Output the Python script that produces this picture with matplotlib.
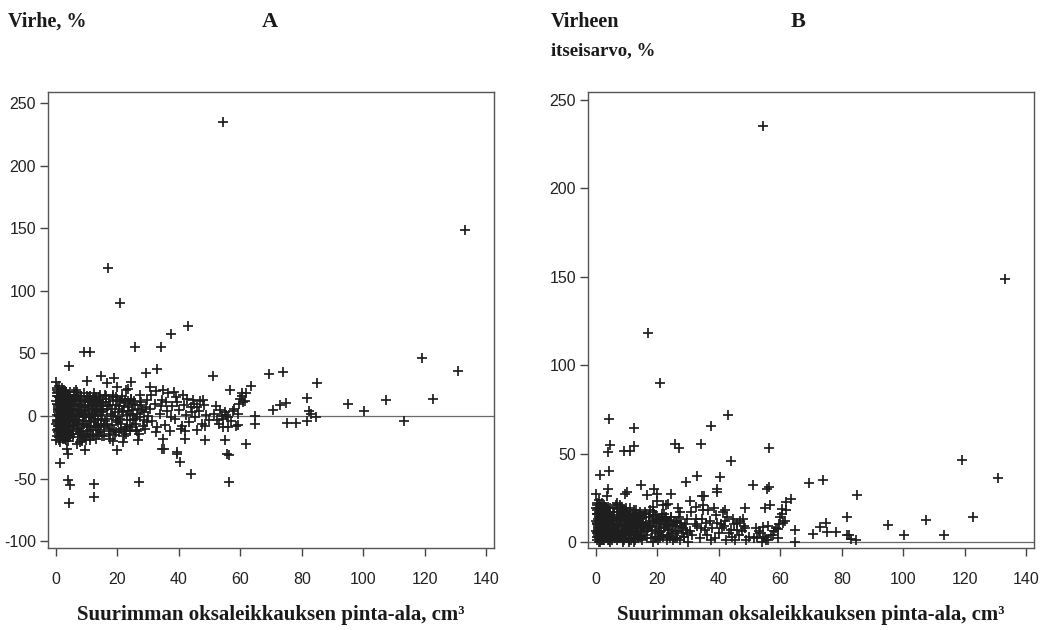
import matplotlib
matplotlib.use("Agg")
import matplotlib.pyplot as plt
from matplotlib import font_manager

# ---- data: size of the largest branch cross-section (cm3) and estimation error (%) ----
# clearly separated observations
outer_x = [54.5, 133.0, 17.0, 21.0, 43.0, 37.4, 9.2, 11.0, 25.6, 34.1,
           119.0, 131.0, 107.5, 122.7, 100.2, 95.2, 113.2, 84.9, 74.0, 69.4,
           51.0, 63.4, 56.5, 60.4, 81.7, 84.7, 81.7, 78.2, 75.1, 70.8,
           72.8, 75.0, 82.5, 83.0, 64.8, 64.8, 61.8, 59.2, 59.2, 56.0,
           55.0, 55.6, 56.4, 56.4, 54.3, 48.5, 43.9, 40.4, 39.3, 35.2,
           35.0, 27.0, 33.0, 29.3, 4.3, 10.2, 14.6, 18.9, 19.8, 16.5,
           24.3, 23.5, 22.8, 27.4, 30.6, 32.5, 35.0, 38.4, 47.7, 46.0,
           0.0, 1.3, 4.0, 4.6, 4.2, 12.4, 12.4, 3.5, 4.0, 9.4,
           18.7, 19.8, 26.8, 0.0, 0.2, 21.9, 34.6, 39.5, 42.0, 42.0]
outer_y = [235, 149, 118, 90, 72, 65.5, 51.5, 51.5, 55.5, 55.5,
           46.5, 36.3, 12.5, 14.0, 3.8, 9.6, -3.8, 26.3, 34.8, 33.6,
           32.2, 24.2, 20.8, 18.6, 14.1, -1.0, -3.7, -5.5, -5.9, 4.8,
           8.6, 10.5, 4.0, 1.5, 0.0, -6.6, -22.4, 2.0, -7.2, -9.0,
           -19.2, -30.0, -31.2, -53.0, -8.5, -19.2, -46.0, -36.5, -30.0, -26.0,
           -18.0, -53.0, 37.6, 34.0, 40.2, 28.2, 32.0, 30.1, 22.9, 26.6,
           26.9, 21.3, 20.8, 16.8, 23.4, 20.0, 21.0, 19.4, 12.8, 7.0,
           -19.0, -37.8, -51.0, -55.0, -69.3, -54.4, -64.5, -26.0, -30.0, -27.0,
           -20.0, -27.0, -19.2, 27.4, 22.0, -21.0, -26.0, -28.5, -12.0, -18.0]

# densely packed observations, small branches
dense_x = [0.3, 0.5, 0.8, 1.1, 1.4, 1.7, 2.0, 2.3, 2.6, 2.9,
           3.2, 3.5, 3.8, 4.1, 4.4, 4.7, 0.4, 0.9, 1.3, 1.9,
           2.4, 2.8, 3.3, 3.9, 4.5, 0.2, 0.7, 1.2, 1.6, 2.1,
           2.7, 3.1, 3.6, 4.2, 4.8, 0.6, 1.0, 1.5, 2.2, 2.5,
           3.0, 3.4, 4.0, 4.6, 0.3, 0.9, 1.4, 1.8, 2.4, 3.0,
           3.7, 4.3, 0.5, 1.1, 1.7, 2.3, 2.9, 3.5, 4.1, 4.9,
           0.8, 1.3, 2.0, 2.6, 3.2, 3.9, 4.4, 0.4, 1.0, 1.6,
           2.2, 2.8, 3.3, 4.0, 4.7, 0.1, 0.6, 1.9, 3.6, 4.3,
           5.2, 5.6, 6.0, 6.4, 6.8, 7.2, 7.6, 8.0, 8.4, 8.8,
           9.2, 9.6, 10.0, 10.4, 10.8, 11.2, 11.6, 12.0, 12.4, 12.8,
           13.2, 13.6, 14.0, 14.4, 14.8, 5.4, 5.9, 6.3, 6.9, 7.4,
           7.9, 8.3, 8.9, 9.4, 9.9, 10.3, 10.9, 11.4, 11.9, 12.3,
           12.9, 13.4, 13.9, 14.5, 5.1, 5.7, 6.2, 6.7, 7.1, 7.7,
           8.2, 8.6, 9.1, 9.7, 10.2, 10.6, 11.1, 11.7, 12.2, 12.7,
           13.1, 13.7, 14.2, 14.7, 6.5, 7.0, 8.5, 9.3, 11.0, 12.6,
           15.2, 15.7, 16.2, 16.7, 17.2, 17.7, 18.2, 18.7, 19.2, 19.7,
           20.2, 20.7, 21.2, 21.7, 22.2, 22.7, 23.2, 23.7, 24.2, 24.7,
           25.2, 25.7, 26.2, 26.7, 27.2, 27.7, 28.2, 28.7, 29.2, 29.7,
           15.5, 16.0, 16.5, 17.0, 17.5, 18.0, 18.5, 19.0, 19.5, 20.0,
           20.5, 21.0, 21.5, 22.0, 22.5, 23.0, 23.5, 24.0, 24.5, 25.0,
           25.5, 26.0, 26.5, 27.0, 27.5, 28.0, 28.5, 29.0, 29.5, 30.0,
           30.6, 31.4, 32.2, 33.0, 33.8, 34.6, 35.4, 36.2, 37.0, 37.8,
           38.6, 39.4, 40.2, 41.0, 41.8, 42.6, 43.4, 44.2, 45.0, 45.8,
           46.6, 47.4, 48.2, 49.0, 49.8, 31.0, 32.6, 34.2, 35.8, 37.4,
           39.0, 40.6, 42.2, 43.8, 45.4, 47.0, 48.6, 36.6, 41.4, 44.6,
           51.5, 52.5, 53.5, 54.0, 54.5, 55.0, 55.5, 56.0, 57.0, 58.0,
           52.0, 53.0, 57.5, 58.5, 60.0, 60.5, 61.0, 61.5, 62.0, 59.5]
dense_y = [-3, 5, -8, 2, 11, -14, 7, -1, 15, -6,
           3, -11, 9, -4, 13, -17, 18, -12, 0, -7,
           4, 20, -2, 10, -9, -16, 6, 14, -5, 1,
           -13, 8, 17, -3, 12, 3, -19, 9, -10, 16,
           -4, 2, -15, 6, 21, -8, 12, -1, -18, 8,
           5, -7, -10, 0, 19, -14, 10, 3, -6, 14,
           7, -2, -11, 13, -16, 1, 19, -5, 15, -9,
           4, -12, 11, -20, 2, 12, -13, 22, -8, -1,
           6, -9, 13, -3, 17, -14, 2, 9, -18, 4,
           -6, 11, -12, 15, 0, -8, 7, -16, 12, -2,
           8, -11, 3, 14, -7, -17, 19, -5, 1, 10,
           -13, 16, -1, 5, -19, 8, 13, -4, 2, 18,
           -9, 11, -15, 6, 2, -4, 8, -10, 15, -21,
           3, -6, 18, -14, 4, -9, 16, 6, -11, 1,
           15, -3, -13, 10, 21, -22, -20, 12, -17, 14,
           4, -8, 11, -2, 14, -12, 6, 0, -15, 9,
           -5, 12, -10, 3, 8, -14, 1, 10, -7, 5,
           -3, 9, -11, 6, -1, 11, -8, 3, 7, -5,
           -16, 17, -6, 8, -18, 2, 15, -11, -3, 13,
           6, -2, 16, -16, 11, -9, 4, -12, 14, 1,
           12, -6, 2, -14, 9, 5, -3, -10, 13, 0,
           6, -4, 10, -9, 2, 13, -7, 4, -12, 8,
           -2, 11, 5, -8, 9, 14, -5, 3, 10, -11,
           4, -6, 9, 1, -3, 17, -13, 8, 11, -1,
           15, -10, 1, 7, -1, 12, -8, 18, 17, 13,
           2, -3, 5, 0, -2, 3, 1, -1, -4, 6,
           8, -6, 4, -8, 14, 16, 11, 12, 18, 10]

# further small-branch observations inside the dark core
core_x = [0.2, 0.6, 1.0, 1.5, 2.0, 2.5, 3.0, 3.5, 4.0, 4.5,
          0.1, 0.7, 1.2, 1.8, 2.3, 2.9, 3.4, 3.9, 4.5, 5.0,
          0.4, 0.9, 1.4, 2.0, 2.6, 3.1, 3.7, 4.2, 4.8, 5.3,
          0.3, 0.8, 1.3, 1.9, 2.5, 3.0, 3.6, 4.1, 4.6, 5.5,
          5.8, 6.3, 6.8, 7.3, 7.8, 8.3, 8.8, 9.3, 9.8, 10.3,
          5.6, 6.1, 6.6, 7.1, 7.6, 8.1, 8.6, 9.1, 9.6, 10.1,
          10.7, 11.3, 11.8, 12.3, 12.9, 13.5, 14.0, 14.6, 15.1, 15.7,
          10.5, 11.0, 11.5, 12.1, 12.7, 13.3, 13.8, 14.3, 14.9, 15.4,
          16.1, 16.6, 17.1, 17.6, 18.1, 18.6, 19.1, 19.6, 20.1, 20.6,
          21.1, 21.6, 22.1, 22.6, 23.1, 23.6, 24.1, 24.6, 25.1, 25.6,
          0.5, 1.1, 1.6, 2.2, 2.7, 3.3, 3.8, 4.4, 4.9, 0.9,
          1.4, 2.1, 2.6, 3.2, 3.8, 4.3, 0.2, 1.7, 2.9, 4.0,
          6.0, 7.0, 8.0, 9.0, 10.0, 11.0, 12.0, 13.0, 14.0, 15.0,
          5.3, 6.4, 7.5, 8.7, 9.5, 10.8, 11.6, 12.5, 13.6, 14.8,
          16.4, 17.4, 18.4, 19.4, 20.4, 21.4, 22.4, 23.4, 24.4, 26.4]
core_y = [1, -4, 6, -9, 3, -13, 11, -2, 7, -15,
          -6, 9, -1, 14, -7, 5, -10, 16, 0, -12,
          10, -14, 4, -3, 18, -9, 2, -17, 8, 12,
          -11, 16, -6, 7, -1, 13, -15, 5, -4, -8,
          5, -2, 10, -7, 13, -12, 0, 7, -4, 11,
          -14, 12, -5, 3, -10, 16, -16, -1, 9, -8,
          2, -11, 9, -5, 5, -14, 12, -3, 8, -9,
          -15, 14, -1, 10, -8, 4, -6, 17, 1, 11,
          -4, 6, -10, 9, -7, 12, 3, -13, -1, 8,
          -6, 4, -12, 13, -3, 7, 2, -9, 10, -2,
          19, -17, 13, -12, 21, -19, 15, 11, -14, 24,
          -21, 17, -16, 19, -13, 17, 16, 9, -18, 14,
          17, 19, 14, -17, 16, -19, 14, -18, 15, -16,
          1, -3, 4, -6, 2, -1, 6, 0, -2, 3,
          16, -14, 17, 15, -13, 14, -10, 12, 14, -12]

size_cm3 = outer_x + dense_x + core_x
error_pct = outer_y + dense_y + core_y
abs_error_pct = [abs(v) for v in error_pct]

x_ticks = [0, 20, 40, 60, 80, 100, 120, 140]
y_ticks_a = [-100, -50, 0, 50, 100, 150, 200, 250]
y_ticks_b = [0, 50, 100, 150, 200, 250]
x_label = "Suurimman oksaleikkauksen pinta-ala, cm³"

# ---- fonts ----
installed = {f.name for f in font_manager.fontManager.ttflist}
tick_family = ["Liberation Sans Narrow", "Liberation Sans", "DejaVu Sans"]
tick_family = [f for f in tick_family if f in installed] or ["DejaVu Sans"]
serif_family = ["Liberation Serif", "DejaVu Serif"]

plt.rcParams["font.family"] = tick_family
plt.rcParams["axes.unicode_minus"] = False

fig = plt.figure(figsize=(10.5, 6.3), dpi=100)
ax_a = fig.add_axes([48 / 1050, 1 - 548 / 630, 446 / 1050, 456 / 630])
ax_b = fig.add_axes([588 / 1050, 1 - 548 / 630, 446 / 1050, 456 / 630])

mark = dict(linestyle="none", marker="+", markersize=7,
            markeredgewidth=1.25, color="#1e1e1e")

ax_a.plot(size_cm3, error_pct, **mark)
ax_b.plot(size_cm3, abs_error_pct, **mark)

for ax, yt, ylim in ((ax_a, y_ticks_a, (-105.5, 259)),
                     (ax_b, y_ticks_b, (-3.4, 254.5))):
    ax.axhline(0, color="#6a6a6a", lw=0.9, zorder=0)
    ax.set_xlim(-2.6, 142.6)
    ax.set_ylim(*ylim)
    ax.set_xticks(x_ticks)
    ax.set_yticks(yt)
    ax.tick_params(axis="both", direction="out", length=5.5, width=1.0,
                   color="#444444", labelsize=11.5, labelcolor="#222222")
    ax.tick_params(axis="x", pad=12)
    ax.tick_params(axis="y", pad=3)
    for sp in ax.spines.values():
        sp.set_color("#555555")
        sp.set_linewidth(1.0)
    ax.set_xlabel(x_label, family=serif_family, fontweight="bold",
                  fontsize=15, color="#1a1a1a", labelpad=13)

# headings
head = dict(family=serif_family, fontweight="bold", color="#1a1a1a")
fig.text(8 / 1050, 1 - 27 / 630, "Virhe, %", fontsize=14.5, **head)
fig.text(270 / 1050, 1 - 27 / 630, "A", fontsize=16, ha="center", **head)
fig.text(551 / 1050, 1 - 27 / 630, "Virheen", fontsize=14.5, **head)
fig.text(551 / 1050, 1 - 55 / 630, "itseisarvo, %", fontsize=13.5, **head)
fig.text(798 / 1050, 1 - 27 / 630, "B", fontsize=16, ha="center", **head)

fig.savefig("out.png", dpi=100, facecolor="white")
